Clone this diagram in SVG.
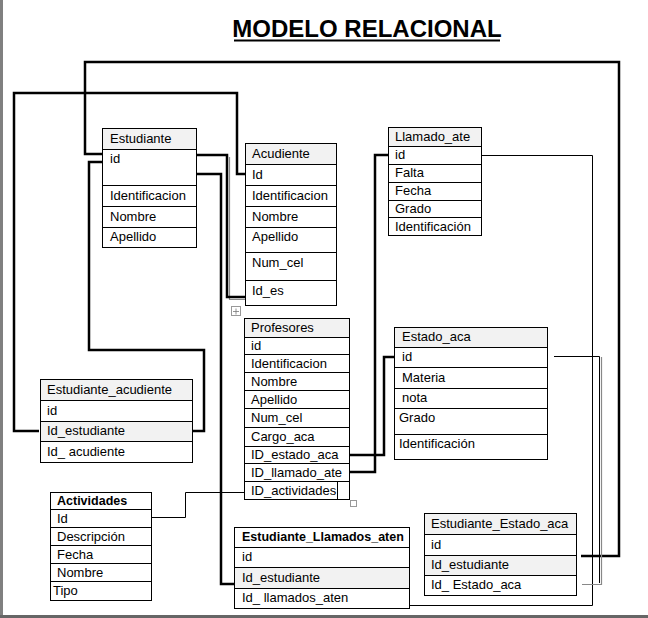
<svg xmlns="http://www.w3.org/2000/svg" width="648" height="618" viewBox="0 0 648 618">
<style>
.c{fill:#fff;stroke:#000;stroke-width:1}
.h{fill:#f2f2f2;stroke:#000;stroke-width:1}
.g{fill:#f2f2f2;stroke:#000;stroke-width:1}
text{font-family:"Liberation Sans",Arial,sans-serif;font-size:13px;fill:#000}
.b{font-weight:bold;font-size:12.5px}
.thick{fill:none;stroke:#000;stroke-width:2.5}
.thin{fill:none;stroke:#000;stroke-width:1}
.shadow{fill:none;stroke:#888;stroke-width:1.2}
</style>
<rect x="0" y="0" width="648" height="618" fill="#fff"/>
<line x1="1.5" y1="0" x2="1.5" y2="618" stroke="#808080" stroke-width="3"/>
<line x1="0" y1="616.5" x2="648" y2="616.5" stroke="#666" stroke-width="3"/>
<g id="title">
<text x="367" y="37" text-anchor="middle" style="font-size:24px;font-weight:bold">MODELO RELACIONAL</text>
<line x1="234" y1="40.5" x2="500" y2="40.5" stroke="#000" stroke-width="2"/>
</g>
<g id="connectors">
<polyline class="thick" points="102,154 85,154 85,62 619,62 619,556 581,556"/>
<polyline class="thick" points="245,174 237,174 237,93 14,93 14,431 39,431"/>
<polyline class="thick" points="102,162 89,162 89,350 204,350 204,431 192,431"/>
<polyline class="shadow" points="229.5,157 229.5,299.5 245,299.5"/>
<polyline class="thick" points="196,155 227,155 227,297 245,297"/>
<polyline class="thick" points="196,174 221,174 221,584 234,584"/>
<polyline class="thick" points="388,155 375,155 375,472 350,472"/>
<polyline class="thick" points="395,357 384,357 384,455 347,455"/>
<polyline class="thin" points="481,155.5 592.5,155.5 592.5,605.5 409,605.5"/>
<polyline class="shadow" points="601.5,357 601.5,584.5 582,584.5"/>
<polyline class="thin" points="554,356.5 599.5,356.5 599.5,583"/>
<polyline class="thin" points="152,517.5 185.5,517.5 185.5,492.5 244,492.5"/>
</g>
<g id="Estudiante">
<rect class="h" x="102.5" y="128.5" width="94" height="21"/>
<rect class="c" x="102.5" y="149.5" width="94" height="36"/>
<rect class="c" x="102.5" y="185.5" width="94" height="21"/>
<rect class="c" x="102.5" y="206.5" width="94" height="21"/>
<rect class="c" x="102.5" y="227.5" width="94" height="20"/>
<text x="110" y="143">Estudiante</text>
<text x="110" y="163">id</text>
<text x="110" y="200">Identificacion</text>
<text x="110" y="221">Nombre</text>
<text x="110" y="241">Apellido</text>
</g>
<g id="Acudiente">
<rect class="h" x="245.5" y="143.5" width="91" height="21"/>
<rect class="c" x="245.5" y="164.5" width="91" height="21"/>
<rect class="c" x="245.5" y="185.5" width="91" height="21"/>
<rect class="c" x="245.5" y="206.5" width="91" height="21"/>
<rect class="c" x="245.5" y="227.5" width="91" height="25"/>
<rect class="c" x="245.5" y="252.5" width="91" height="28"/>
<rect class="c" x="245.5" y="280.5" width="91" height="25"/>
<text x="252" y="158">Acudiente</text>
<text x="252" y="179">Id</text>
<text x="252" y="200">Identificacion</text>
<text x="252" y="221">Nombre</text>
<text x="252" y="241">Apellido</text>
<text x="252" y="267">Num_cel</text>
<text x="252" y="295">Id_es</text>
</g>
<g id="Llamado_ate">
<rect class="h" x="388.5" y="127.5" width="93" height="19"/>
<rect class="c" x="388.5" y="146.5" width="93" height="18"/>
<rect class="c" x="388.5" y="164.5" width="93" height="18"/>
<rect class="c" x="388.5" y="182.5" width="93" height="18"/>
<rect class="c" x="388.5" y="200.5" width="93" height="17"/>
<rect class="c" x="388.5" y="217.5" width="93" height="18"/>
<text x="395" y="141">Llamado_ate</text>
<text x="395" y="159">id</text>
<text x="395" y="177">Falta</text>
<text x="395" y="195">Fecha</text>
<text x="395" y="213">Grado</text>
<text x="395" y="231">Identificación</text>
</g>
<g id="Profesores">
<rect class="h" x="244.5" y="318.5" width="105" height="19"/>
<rect class="c" x="244.5" y="337.5" width="105" height="17"/>
<rect class="c" x="244.5" y="354.5" width="105" height="18"/>
<rect class="c" x="244.5" y="372.5" width="105" height="18"/>
<rect class="c" x="244.5" y="390.5" width="105" height="18"/>
<rect class="c" x="244.5" y="408.5" width="105" height="19"/>
<rect class="c" x="244.5" y="427.5" width="105" height="19"/>
<rect class="c" x="244.5" y="446.5" width="105" height="17"/>
<rect class="c" x="244.5" y="463.5" width="105" height="18"/>
<rect class="c" x="244.5" y="481.5" width="105" height="18"/>
<line x1="337.5" y1="481.5" x2="337.5" y2="499.5" stroke="#000"/>
<text x="251" y="332">Profesores</text>
<text x="251" y="350">id</text>
<text x="251" y="368">Identificacion</text>
<text x="251" y="386">Nombre</text>
<text x="251" y="404">Apellido</text>
<text x="251" y="422">Num_cel</text>
<text x="251" y="441">Cargo_aca</text>
<text x="251" y="459">ID_estado_aca</text>
<text x="251" y="477">ID_llamado_ate</text>
<text x="251" y="495">ID_actividades</text>
<rect x="231.5" y="306.5" width="9" height="9" fill="#fff" stroke="#999"/>
<path d="M236 308.5v6M233 311.5h6" stroke="#777" stroke-width="0.8" fill="none"/>
<rect x="350.5" y="500.5" width="6" height="6" fill="#fff" stroke="#999"/>
</g>
<g id="Estado_aca">
<rect class="h" x="394.5" y="327.5" width="153" height="20"/>
<rect class="c" x="394.5" y="347.5" width="153" height="20"/>
<rect class="c" x="394.5" y="367.5" width="153" height="21"/>
<rect class="c" x="394.5" y="388.5" width="153" height="20"/>
<rect class="c" x="394.5" y="408.5" width="153" height="26"/>
<rect class="c" x="394.5" y="434.5" width="153" height="25"/>
<text x="402" y="341">Estado_aca</text>
<text x="402" y="361">id</text>
<text x="402" y="382">Materia</text>
<text x="402" y="402">nota</text>
<text x="399" y="422">Grado</text>
<text x="399" y="448">Identificación</text>
</g>
<g id="Estudiante_acudiente">
<rect class="h" x="40.5" y="379.5" width="152" height="21"/>
<rect class="c" x="40.5" y="400.5" width="152" height="21"/>
<rect class="g" x="40.5" y="421.5" width="152" height="20"/>
<rect class="c" x="40.5" y="441.5" width="152" height="21"/>
<text x="47" y="394">Estudiante_acudiente</text>
<text x="47" y="415">id</text>
<text x="47" y="435">Id_estudiante</text>
<text x="47" y="456">Id_ acudiente</text>
</g>
<g id="Actividades">
<rect class="c" x="50.5" y="492.5" width="101" height="17"/>
<rect class="c" x="50.5" y="509.5" width="101" height="18"/>
<rect class="c" x="50.5" y="527.5" width="101" height="18"/>
<rect class="c" x="50.5" y="545.5" width="101" height="18"/>
<rect class="c" x="50.5" y="563.5" width="101" height="18"/>
<rect class="c" x="50.5" y="581.5" width="101" height="19"/>
<text class="b" x="57" y="505">Actividades</text>
<text x="57" y="523">Id</text>
<text x="57" y="541">Descripción</text>
<text x="57" y="559">Fecha</text>
<text x="57" y="577">Nombre</text>
<text x="53" y="595">Tipo</text>
</g>
<g id="Estudiante_Llamados_aten">
<rect class="c" x="234.5" y="527.5" width="175" height="20"/>
<rect class="c" x="234.5" y="547.5" width="175" height="20"/>
<rect class="g" x="234.5" y="567.5" width="175" height="21"/>
<rect class="c" x="234.5" y="588.5" width="175" height="20"/>
<text class="b" x="242" y="541">Estudiante_Llamados_aten</text>
<text x="242" y="561">id</text>
<text x="242" y="582">Id_estudiante</text>
<text x="242" y="602">Id_ llamados_aten</text>
</g>
<g id="Estudiante_Estado_aca">
<rect class="h" x="424.5" y="513.5" width="152" height="21"/>
<rect class="c" x="424.5" y="534.5" width="152" height="21"/>
<rect class="g" x="424.5" y="555.5" width="152" height="20"/>
<rect class="c" x="424.5" y="575.5" width="152" height="20"/>
<text x="431" y="528">Estudiante_Estado_aca</text>
<text x="431" y="549">id</text>
<text x="431" y="569">Id_estudiante</text>
<text x="431" y="589">Id_ Estado_aca</text>
</g>
</svg>
